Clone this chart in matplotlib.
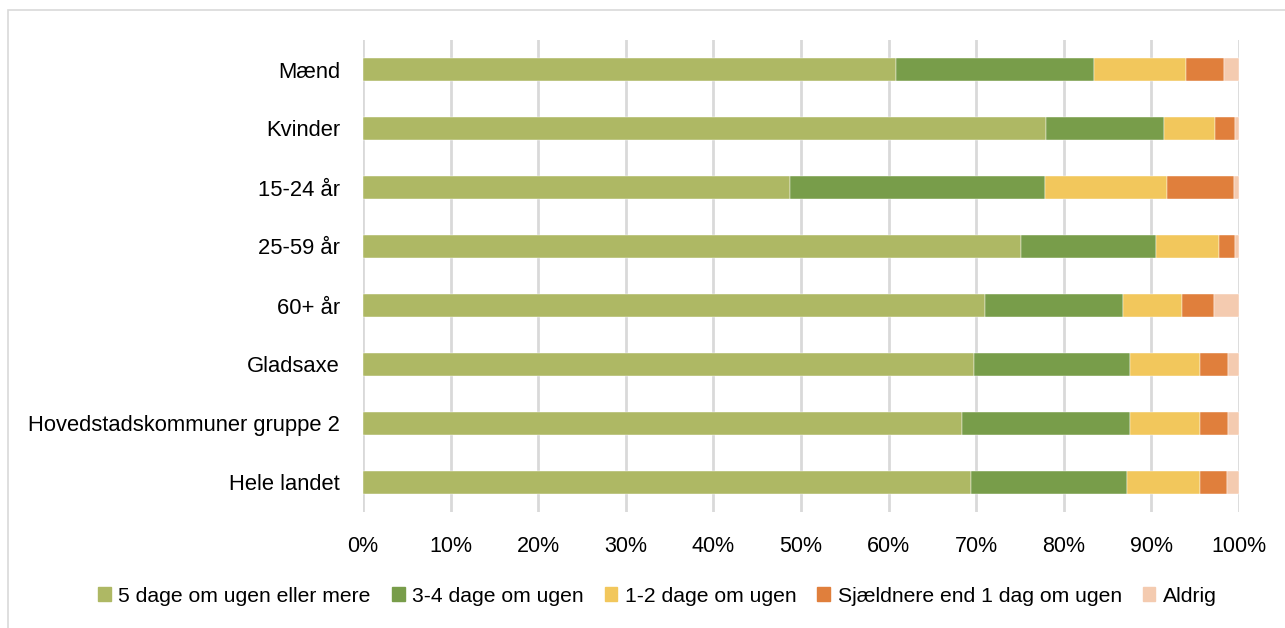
import matplotlib
matplotlib.use("Agg")
import matplotlib.pyplot as plt
import matplotlib.patches as mpatches
import numpy as np

plt.rcParams["font.family"] = ["Liberation Sans", "DejaVu Sans"]

# categories top -> bottom
categories = ["Mænd", "Kvinder", "15-24 år", "25-59 år", "60+ år",
              "Gladsaxe", "Hovedstadskommuner gruppe 2", "Hele landet"]

series_names = ["5 dage om ugen eller mere", "3-4 dage om ugen", "1-2 dage om ugen",
                "Sjældnere end 1 dag om ugen", "Aldrig"]

s_5plus = [60.9, 78.0, 48.7, 75.1, 71.0, 69.7, 68.4, 69.4]
s_3_4 = [22.6, 13.4, 29.2, 15.4, 15.8, 17.8, 19.1, 17.8]
s_1_2 = [10.4, 5.9, 13.9, 7.2, 6.7, 8.1, 8.1, 8.3]
s_rare = [4.4, 2.2, 7.6, 1.8, 3.6, 3.2, 3.2, 3.1]
s_never = [1.7, 0.5, 0.6, 0.5, 2.9, 1.2, 1.2, 1.4]

colors = ["#AEB864", "#789D4A", "#F2C75C", "#E07F3C", "#F4CBB0"]

fig = plt.figure(figsize=(12.85, 6.28), dpi=100)
ax = fig.add_axes([363 / 1285, 1 - 512 / 628, 876 / 1285, 472 / 628])

# outer chart frame (cut at right/bottom like the reference)
fig.patches.append(mpatches.Rectangle((8 / 1285, -0.05), 1.2, 1 - 10 / 628 + 0.05,
                                      transform=fig.transFigure, fill=False,
                                      edgecolor="#D9D9D9", linewidth=1.2))

y = np.arange(len(categories))
left = np.zeros(len(categories))
for name, vals, col in zip(series_names, [s_5plus, s_3_4, s_1_2, s_rare, s_never], colors):
    vals = np.array(vals)
    ax.barh(y, vals, left=left, height=0.39, color=col, label=name,
            edgecolor="white", linewidth=0.3, zorder=3)
    left += vals

ax.set_xlim(0, 100)
ax.set_ylim(len(categories) - 0.5, -0.5)
ax.set_xticks(np.arange(0, 101, 10))
ax.set_xticklabels([f"{v}%" for v in range(0, 101, 10)], fontsize=15.5, color="#000000")
ax.set_yticks(y)
ax.set_yticklabels(categories, fontsize=15.8, color="#000000")
ax.tick_params(axis="both", length=0)
ax.tick_params(axis="x", pad=17.5)
ax.tick_params(axis="y", pad=16.5)
for lbl in ax.get_yticklabels():
    lbl.set_y(lbl.get_position()[1])
ax.xaxis.grid(True, color="#D9D9D9", linewidth=2, zorder=0)
ax.set_axisbelow(True)
for spine in ax.spines.values():
    spine.set_visible(False)

handles = [mpatches.Patch(color=c, label=n) for n, c in zip(series_names, colors)]
fig.legend(handles=handles, loc="center", bbox_to_anchor=(0.5117, 1 - 596 / 628),
           ncol=5, frameon=False, fontsize=15.2, handlelength=0.6, handleheight=0.6,
           handletextpad=0.35, columnspacing=1.0)

plt.savefig("out.png", dpi=100)
plt.close()
